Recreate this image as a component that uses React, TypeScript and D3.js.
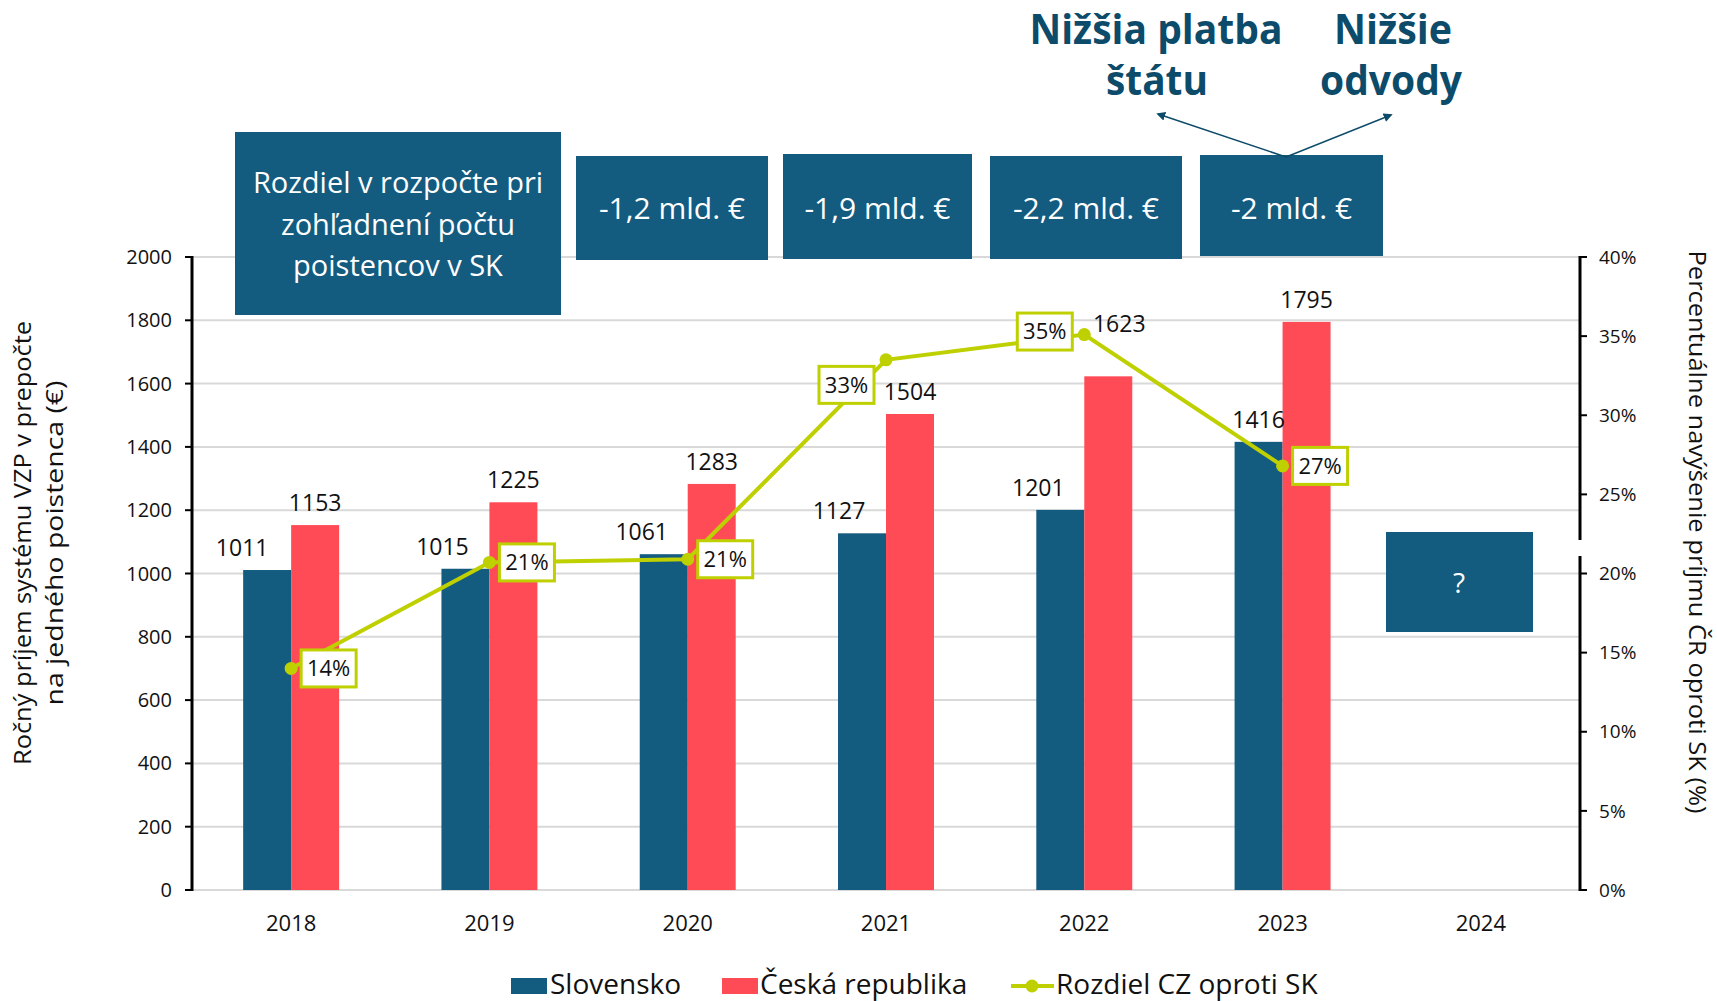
import React from "react";
import * as d3 from "d3";

// categories and values
const years = ["2018", "2019", "2020", "2021", "2022", "2023", "2024"];
const slovensko = [1011, 1015, 1061, 1127, 1201, 1416];
const ceskaRepublika = [1153, 1225, 1283, 1504, 1623, 1795];
const rozdielPct = [14.0, 20.7, 20.9, 33.5, 35.1, 26.8];
const rozdielLabels = ["14%", "21%", "21%", "33%", "35%", "27%"];
const leftTicks = [0, 200, 400, 600, 800, 1000, 1200, 1400, 1600, 1800, 2000];
const rightTicks = [0, 5, 10, 15, 20, 25, 30, 35, 40];
const budgetDiff = ["-1,2 mld. €", "-1,9 mld. €", "-2,2 mld. €", "-2 mld. €"];

// manual label nudges (like the hand-moved labels in the original)
const skLabelDx = [-25, -23, -22, -23, -22, 0];
const czLabelDx = [0, 0, 0, 0, 11, 0];
const czLabelDy = [0, 0, 0, 0, -30, 0];
const pctLabelSide = ["right", "right", "right", "left", "left", "right"];
const pctLabelDy = [0, 0, 0, 25, -3, 0];

const BLUE = "#145b80";
const RED = "#ff4b55";
const LIME = "#bfd000";
const DARK = "#0d4b6a";
const FONT = "'Open Sans', sans-serif";

const App = () => {
  const W = 1717;
  const H = 1001;
  const left = 192;
  const right = 1580;
  const top = 257;
  const bottom = 890;

  const x = d3.scaleBand().domain(years).range([left, right]).padding(0);
  const y = d3.scaleLinear().domain([0, 2000]).range([bottom, top]);
  const yPct = d3.scaleLinear().domain([0, 40]).range([bottom, top]);
  const barW = x.bandwidth() * 0.242;
  const cx = (i) => x(years[i]) + x.bandwidth() / 2;

  const line = d3
    .line()
    .x((d, i) => cx(i))
    .y((d) => yPct(d));

  // annotation boxes above the chart
  const boxes = [
    { x0: 576, y0: 156, x1: 768, y1: 260 },
    { x0: 783, y0: 154, x1: 972, y1: 259 },
    { x0: 990, y0: 156, x1: 1182, y1: 259 },
    { x0: 1200, y0: 155, x1: 1383, y1: 256 },
  ];

  // bold headings, squeezed to the narrow face of the original
  const headings = [
    { t: "Nižšia platba", x: 1156, y: 44, w: 253 },
    { t: "štátu", x: 1157, y: 95, w: 102 },
    { t: "Nižšie", x: 1393, y: 44, w: 118 },
    { t: "odvody", x: 1391, y: 95, w: 142 },
  ];

  return (
    <svg
      width={W}
      height={H}
      style={{ position: "absolute", left: 0, top: 0, background: "#fff" }}
      fontFamily={FONT}
    >
      <defs>
        <marker
          id="arr"
          viewBox="0 0 10 10"
          refX="8"
          refY="5"
          markerWidth="9"
          markerHeight="9"
          markerUnits="userSpaceOnUse"
          orient="auto"
        >
          <path d="M0,0 L10,5 L0,10 z" fill={DARK} />
        </marker>
      </defs>

      {/* grid */}
      {leftTicks.map((t) => (
        <line key={"g" + t} x1={left} x2={right} y1={y(t)} y2={y(t)} stroke="#d9d9d9" strokeWidth={2} />
      ))}

      {/* bars */}
      {slovensko.map((v, i) => (
        <rect key={"sk" + i} x={cx(i) - barW} y={y(v)} width={barW} height={bottom - y(v)} fill={BLUE} />
      ))}
      {ceskaRepublika.map((v, i) => (
        <rect key={"cz" + i} x={cx(i)} y={y(v)} width={barW} height={bottom - y(v)} fill={RED} />
      ))}

      {/* bar value labels */}
      {slovensko.map((v, i) => (
        <text key={"skl" + i} x={cx(i) - barW / 2 + skLabelDx[i]} y={y(v) - 14} textAnchor="middle" fontSize={23} fill="#111">
          {v}
        </text>
      ))}
      {ceskaRepublika.map((v, i) => (
        <text key={"czl" + i} x={cx(i) + barW / 2 + czLabelDx[i]} y={y(v) - 14 + czLabelDy[i]} textAnchor="middle" fontSize={23} fill="#111">
          {v}
        </text>
      ))}

      {/* left axis */}
      <line x1={left} x2={left} y1={top - 1} y2={bottom + 1} stroke="#000" strokeWidth={3} />
      {leftTicks.map((t) => (
        <g key={"lt" + t}>
          <line x1={left - 7} x2={left} y1={y(t)} y2={y(t)} stroke="#000" strokeWidth={2} />
          <text x={172} y={y(t)} dy="0.35em" textAnchor="end" fontSize={20} fill="#111">
            {t}
          </text>
        </g>
      ))}

      {/* right axis */}
      <line x1={right} x2={right} y1={top - 1} y2={bottom + 1} stroke="#000" strokeWidth={3} />
      <line x1={right} x2={right} y1={540} y2={556} stroke="#fff" strokeWidth={4} />
      {rightTicks.map((t) => (
        <g key={"rt" + t}>
          <line x1={right} x2={right + 7} y1={yPct(t)} y2={yPct(t)} stroke="#000" strokeWidth={2} />
          <text x={1599} y={yPct(t)} dy="0.35em" textAnchor="start" fontSize={19} fill="#111">
            {t}%
          </text>
        </g>
      ))}

      {/* year labels */}
      {years.map((yr, i) => (
        <text key={"yr" + yr} x={cx(i)} y={931} textAnchor="middle" fontSize={22} fill="#111">
          {yr}
        </text>
      ))}

      {/* difference line */}
      <path d={line(rozdielPct)} fill="none" stroke={LIME} strokeWidth={4} />
      {rozdielPct.map((v, i) => (
        <circle key={"pt" + i} cx={cx(i)} cy={yPct(v)} r={6.5} fill={LIME} />
      ))}
      {rozdielPct.map((v, i) => {
        const bw = 55;
        const bh = 37;
        const px = cx(i);
        const py = yPct(v) + pctLabelDy[i];
        const bx = pctLabelSide[i] === "right" ? px + 10 : px - 12 - bw;
        return (
          <g key={"pl" + i}>
            <rect x={bx} y={py - bh / 2} width={bw} height={bh} fill="#fff" stroke={LIME} strokeWidth={3} />
            <text x={bx + bw / 2} y={py} dy="0.36em" textAnchor="middle" fontSize={22} fill="#111">
              {rozdielLabels[i]}
            </text>
          </g>
        );
      })}

      {/* axis titles */}
      <text transform="translate(23,543) rotate(-90)" textAnchor="middle" dy="0.35em" fontSize={23} fill="#111" textLength={444} lengthAdjust="spacingAndGlyphs">
        Ročný príjem systému VZP v prepočte
      </text>
      <text transform="translate(55,543) rotate(-90)" textAnchor="middle" dy="0.35em" fontSize={23} fill="#111" textLength={325} lengthAdjust="spacingAndGlyphs">
        na jedného poistenca (€)
      </text>
      <text transform="translate(1697,532) rotate(90)" textAnchor="middle" dy="0.35em" fontSize={23} fill="#111" textLength={563} lengthAdjust="spacingAndGlyphs">
        Percentuálne navýšenie príjmu ČR oproti SK (%)
      </text>

      {/* budget annotation boxes */}
      <rect x={235} y={132} width={326} height={183} fill={BLUE} />
      {["Rozdiel v rozpočte pri", "zohľadnení počtu", "poistencov v SK"].map((s, i) => (
        <text key={"b1" + i} x={398} y={183 + i * 41.5} dy="0.35em" textAnchor="middle" fontSize={29} fill="#fff">
          {s}
        </text>
      ))}
      {boxes.map((b, i) => (
        <g key={"bx" + i}>
          <rect x={b.x0} y={b.y0} width={b.x1 - b.x0} height={b.y1 - b.y0} fill={BLUE} />
          <text x={(b.x0 + b.x1) / 2} y={208} dy="0.35em" textAnchor="middle" fontSize={30} fill="#fff">
            {budgetDiff[i]}
          </text>
        </g>
      ))}
      <rect x={1386} y={532} width={147} height={100} fill={BLUE} />
      <text x={1459} y={583} dy="0.35em" textAnchor="middle" fontSize={28} fill="#fff">
        ?
      </text>

      {/* top annotations with arrows */}
      <line x1={1286} y1={157} x2={1158} y2={114} stroke={DARK} strokeWidth={1.5} markerEnd="url(#arr)" />
      <line x1={1286} y1={157} x2={1391} y2={115} stroke={DARK} strokeWidth={1.5} markerEnd="url(#arr)" />
      {headings.map((h) => (
        <text key={h.t} x={h.x} y={h.y} textAnchor="middle" fontSize={42} fontWeight="bold" fill={DARK} textLength={h.w} lengthAdjust="spacingAndGlyphs">
          {h.t}
        </text>
      ))}

      {/* legend */}
      <rect x={511} y={978} width={36} height={16} fill={BLUE} />
      <text x={550} y={994} fontSize={28} fill="#111">
        Slovensko
      </text>
      <rect x={722} y={978} width={36} height={16} fill={RED} />
      <text x={760} y={994} fontSize={28} fill="#111">
        Česká republika
      </text>
      <line x1={1011} x2={1054} y1={986} y2={986} stroke={LIME} strokeWidth={4} />
      <circle cx={1032} cy={986} r={6.5} fill={LIME} />
      <text x={1056} y={994} fontSize={28} fill="#111">
        Rozdiel CZ oproti SK
      </text>
    </svg>
  );
};

export default App;
